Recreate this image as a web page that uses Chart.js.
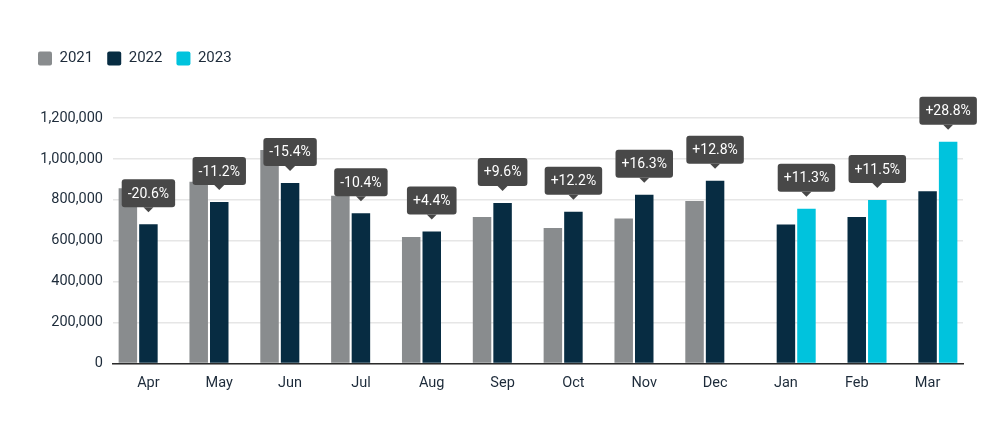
<!DOCTYPE html>
<html>
<head>
<meta charset="utf-8">
<script src="https://cdn.jsdelivr.net/npm/chart.js@4.4.1/dist/chart.umd.min.js"></script>
<style>
  html, body { margin: 0; padding: 0; background: #fff; }
  #wrap { width: 1000px; height: 441px; }
</style>
</head>
<body>
<div id="wrap"><canvas id="myChart" width="1000" height="441"></canvas></div>
<script>
const months = ['Apr', 'May', 'Jun', 'Jul', 'Aug', 'Sep', 'Oct', 'Nov', 'Dec', 'Jan', 'Feb', 'Mar'];
const sales2021 = [857000, 888000, 1044000, 820000, 618000, 716000, 662000, 709000, 794000, null, null, null];
const sales2022 = [681000, 789000, 883000, 735000, 645000, 785000, 742000, 825000, 894000, 680000, 716000, 842000];
const sales2023 = [null, null, null, null, null, null, null, null, null, 757000, 799000, 1084000];
const changes = ['-20.6%', '-11.2%', '-15.4%', '-10.4%', '+4.4%', '+9.6%', '+12.2%', '+16.3%', '+12.8%', '+11.3%', '+11.5%', '+28.8%'];

const textColor = '#1d2b3a';

// push the plot down below the legend
const legendSpacer = {
    id: 'legendSpacer',
    beforeInit(chart) {
        const fit = chart.legend.fit;
        chart.legend.fit = function () {
            fit.bind(chart.legend)();
            this.height += 42;
        };
    }
};

// dark callout boxes above the newest bar of each month
const callouts = {
    id: 'callouts',
    afterDatasetsDraw(chart) {
        const ctx = chart.ctx;
        const series = [sales2021, sales2022, sales2023];
        ctx.save();
        ctx.font = '14px Roboto';
        ctx.textAlign = 'center';
        ctx.textBaseline = 'middle';
        changes.forEach((label, i) => {
            let d = -1;
            series.forEach((s, k) => { if (s[i] !== null) d = k; });
            const bar = chart.getDatasetMeta(d).data[i];
            const w = ctx.measureText(label).width + 12;
            const h = 28;
            const bottom = bar.y - 17;
            const left = bar.x - w / 2;
            ctx.fillStyle = '#484848';
            ctx.beginPath();
            ctx.roundRect(left, bottom - h, w, h, 3);
            ctx.fill();
            ctx.beginPath();
            ctx.moveTo(bar.x - 5, bottom);
            ctx.lineTo(bar.x + 5, bottom);
            ctx.lineTo(bar.x, bottom + 5);
            ctx.closePath();
            ctx.fill();
            ctx.fillStyle = '#ffffff';
            ctx.fillText(label, bar.x, bottom - h / 2 + 1);
        });
        ctx.restore();
    }
};

const ctx1 = document.getElementById('myChart').getContext('2d');
new Chart(ctx1, {
    type: 'bar',
    data: {
        labels: months,
        datasets: [{
            label: '2021',
            backgroundColor: '#898c8e',
            data: sales2021,
        },
        {
            label: '2022',
            backgroundColor: '#072c42',
            data: sales2022,
        },
        {
            label: '2023',
            backgroundColor: '#00c3dd',
            data: sales2023,
        }]
    },
    options: {
        responsive: false,
        animation: false,
        categoryPercentage: 0.87,
        barPercentage: 0.9,
        layout: {
            padding: { left: 24, right: 37, top: 37, bottom: 46 }
        },
        plugins: {
            legend: {
                position: 'top',
                align: 'start',
                labels: {
                    boxWidth: 14,
                    boxHeight: 14,
                    padding: 14,
                    useBorderRadius: true,
                    borderRadius: 2,
                    color: textColor,
                    font: { family: 'Roboto', size: 15 }
                }
            },
            tooltip: { enabled: false }
        },
        scales: {
            x: {
                grid: { display: false },
                border: { color: '#2b2b2b', width: 1.5 },
                ticks: {
                    color: textColor,
                    padding: 3,
                    font: { family: 'Roboto', size: 14.5 }
                }
            },
            y: {
                beginAtZero: true,
                min: 0,
                max: 1200000,
                afterFit(scale) { scale.width = 89; },
                grid: { color: '#e6e6e6', lineWidth: 1.5, drawTicks: false },
                border: { display: false },
                ticks: {
                    stepSize: 200000,
                    padding: 10,
                    color: textColor,
                    font: { family: 'Roboto', size: 14.5 },
                    callback: (v) => v.toLocaleString('en-US')
                }
            }
        }
    },
    plugins: [legendSpacer, callouts]
});
</script>
</body>
</html>
